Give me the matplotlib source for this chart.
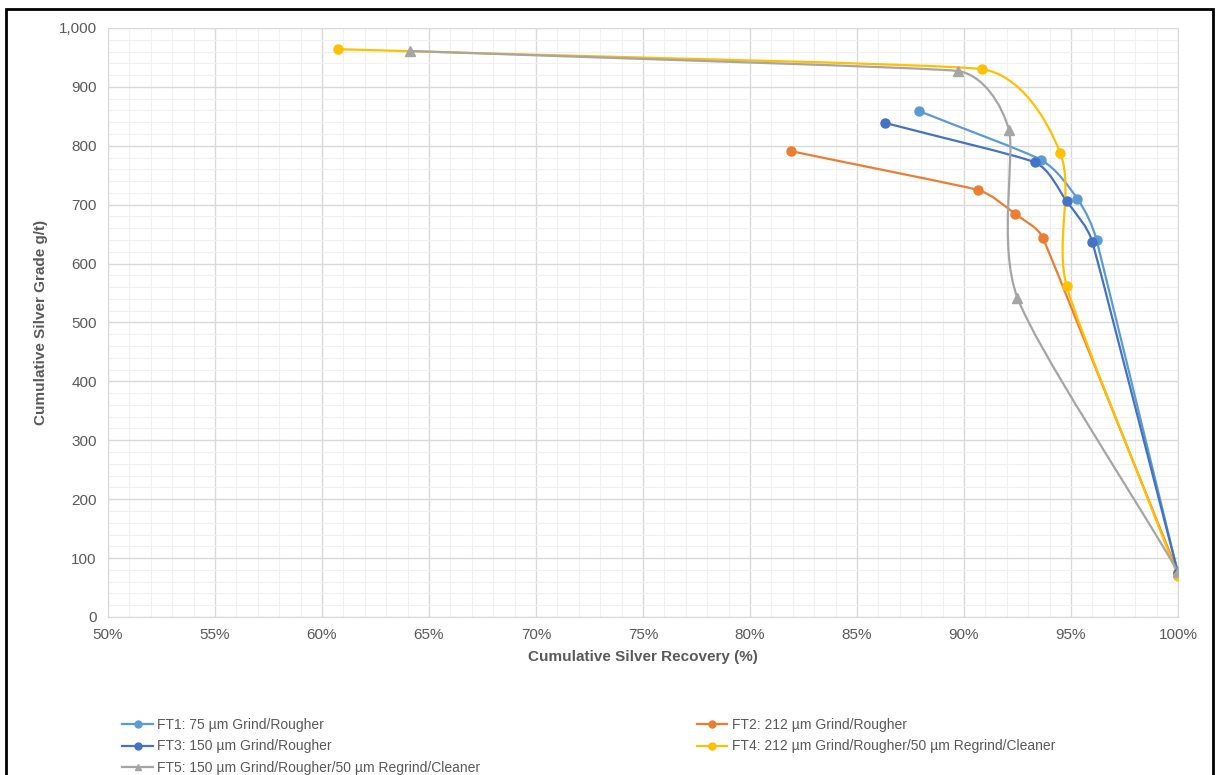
import numpy as np
import matplotlib
matplotlib.use("Agg")
import matplotlib.pyplot as plt
from matplotlib.path import Path
from matplotlib.patches import PathPatch, Rectangle
from matplotlib.lines import Line2D
from matplotlib.ticker import MultipleLocator, FuncFormatter

plt.rcParams['font.family'] = ['Liberation Sans', 'DejaVu Sans']

# recovery (%) / grade (g/t)
ft1_x = [87.9, 93.6, 95.3, 96.2, 100.0]
ft1_y = [859, 776, 710, 640, 75]
ft2_x = [81.9, 90.65, 92.4, 93.7, 100.0]
ft2_y = [791, 725, 684, 643, 75]
ft3_x = [86.3, 93.3, 94.8, 96.0, 100.0]
ft3_y = [839, 772, 706, 637, 75]
ft4_x = [60.75, 90.85, 94.5, 94.8, 100.0]
ft4_y = [964, 930, 788, 562, 70]
ft5_x = [64.1, 89.7, 92.1, 92.5, 100.0]
ft5_y = [961, 927, 827, 542, 77]

labels = ["FT1: 75 µm Grind/Rougher",
          "FT2: 212 µm Grind/Rougher",
          "FT3: 150 µm Grind/Rougher",
          "FT4: 212 µm Grind/Rougher/50 µm Regrind/Cleaner",
          "FT5: 150 µm Grind/Rougher/50 µm Regrind/Cleaner"]
colors = ["#5B9BD5", "#ED7D31", "#4472C4", "#FFC000", "#A5A5A5"]
markers = ["o", "o", "o", "o", "^"]

# pixels per data unit on screen, used so the smoothing looks right
SX, SY = 21.4, 0.589


def smooth_path(xs, ys, k=0.33):
    # excel-like smoothed line, tangents from neighbours,
    # arms limited by the shorter of the two segments meeting at a point
    p = np.column_stack([np.array(xs) * SX, np.array(ys) * SY])
    n = len(p)
    seg = [np.hypot(*(p[i + 1] - p[i])) for i in range(n - 1)]
    tang = []
    for i in range(n):
        a = p[i - 1] if i > 0 else p[i]
        b = p[i + 1] if i + 1 < n else p[i]
        d = b - a
        tang.append(d / np.hypot(*d))
    verts = [p[0]]
    codes = [Path.MOVETO]
    for i in range(n - 1):
        a1 = seg[i] if i == 0 else min(seg[i], seg[i - 1])
        a2 = seg[i] if i == n - 2 else min(seg[i], seg[i + 1])
        c1 = p[i] + tang[i] * a1 * k
        c2 = p[i + 1] - tang[i + 1] * a2 * k
        verts += [c1, c2, p[i + 1]]
        codes += [Path.CURVE4] * 3
    verts = np.array(verts) / [SX, SY]
    return Path(verts, codes)


fig = plt.figure(figsize=(12.17, 7.75), dpi=100)
ax = fig.add_axes([0.0887, 0.2039, 0.8792, 0.76])

series = [(ft1_x, ft1_y), (ft2_x, ft2_y), (ft3_x, ft3_y), (ft4_x, ft4_y), (ft5_x, ft5_y)]
handles = []
for (xs, ys), c, m, lab in zip(series, colors, markers, labels):
    ax.add_patch(PathPatch(smooth_path(xs, ys), facecolor='none', edgecolor=c, lw=1.6, zorder=3))
    ax.plot(xs, ys, ls='none', marker=m, ms=6.5, color=c, zorder=4)
    handles.append(Line2D([], [], color=c, lw=1.6, marker=m, ms=5, label=lab))

ax.set_xlim(50, 100)
ax.set_ylim(0, 1000)
ax.xaxis.set_major_locator(MultipleLocator(5))
ax.xaxis.set_minor_locator(MultipleLocator(1))
ax.yaxis.set_major_locator(MultipleLocator(100))
ax.yaxis.set_minor_locator(MultipleLocator(20))
ax.xaxis.set_major_formatter(FuncFormatter(lambda v, p: f"{v:.0f}%"))
ax.yaxis.set_major_formatter(FuncFormatter(lambda v, p: f"{v:,.0f}"))
ax.grid(which='major', color='#d9d9d9', lw=1.0)
ax.grid(which='minor', color='#f0f0f0', lw=0.8)
ax.set_axisbelow(True)
for s in ax.spines.values():
    s.set_color('#d9d9d9')
ax.tick_params(which='both', length=0, colors='#595959', labelsize=11, pad=8)

ax.set_xlabel("Cumulative Silver Recovery (%)", fontsize=11, fontweight='bold', color='#595959', labelpad=6)
ax.set_ylabel("Cumulative Silver Grade g/t)", fontsize=11, fontweight='bold', color='#595959', labelpad=8)

# excel fills the legend row by row
order = [0, 2, 4, 1, 3]
fig.legend(handles=[handles[i] for i in order], loc='upper left', bbox_to_anchor=(0.096, 0.081), ncol=2,
           frameon=False, fontsize=10, labelcolor='#595959', columnspacing=15.6,
           handlelength=2.2, handletextpad=0.3, labelspacing=0.55, borderaxespad=0)

# outer black frame of the picture
fig.patches.append(Rectangle((6 / 1217, -0.01), 1207 / 1217, 1 - 9 / 775 + 0.01,
                             transform=fig.transFigure, fill=False, edgecolor='black', lw=2))

fig.savefig("out.png", dpi=100)
